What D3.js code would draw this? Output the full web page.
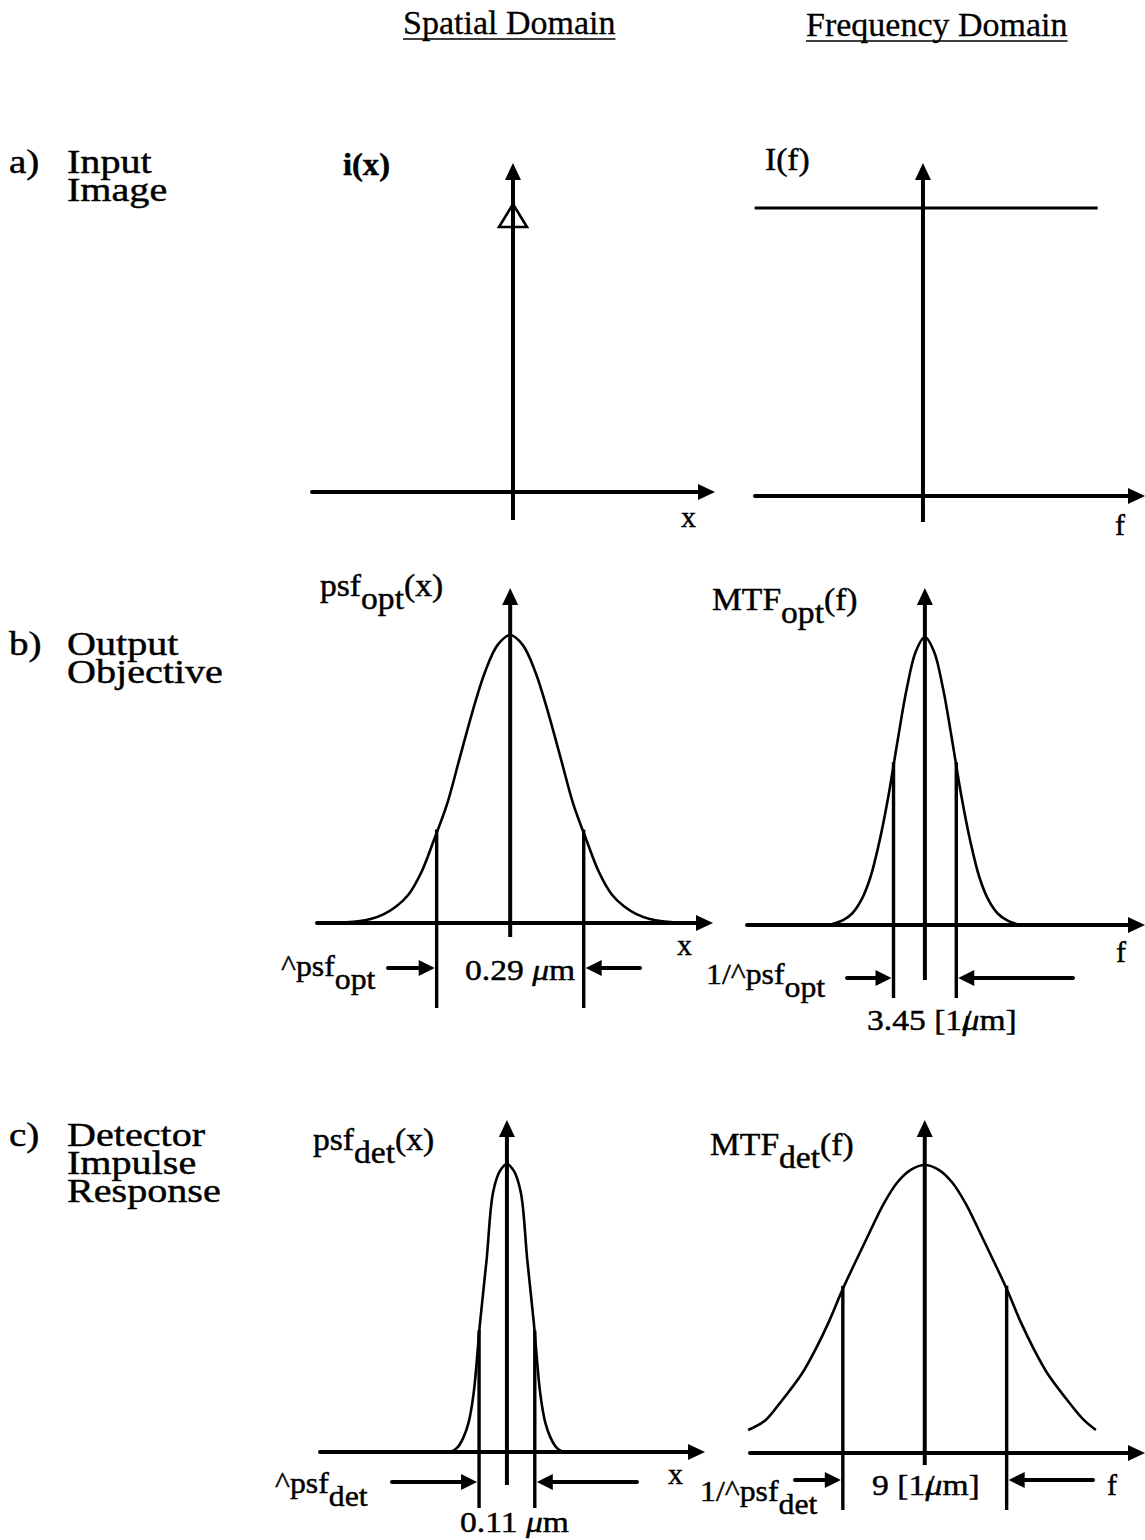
<!DOCTYPE html>
<html>
<head>
<meta charset="utf-8">
<script src="https://cdn.jsdelivr.net/npm/d3@7"></script>
<style>
  body { margin: 0; background: #fff; }
  text { font-family: "Liberation Serif", "Times New Roman", serif; fill: #000; stroke: #000; stroke-width: 0.45px; }
</style>
</head>
<body>
<svg id="fig" width="1145" height="1540"></svg>
<script>
// ---- content -------------------------------------------------------------
const columnTitles = ["Spatial Domain", "Frequency Domain"];
const rowLetters = ["a)", "b)", "c)"];
const rowCaptions = [["Input", "Image"], ["Output", "Objective"], ["Detector", "Impulse", "Response"]];

// function labels: [name, subscript, argument]
const spatialLabels = [["i(x)", "", ""], ["psf", "opt", "(x)"], ["psf", "det", "(x)"]];
const freqLabels = [["I(f)", "", ""], ["MTF", "opt", "(f)"], ["MTF", "det", "(f)"]];
const spatialAxisName = "x";
const freqAxisName = "f";

// full widths between the marker lines
const psfOptWidth = 0.29;  // μm
const mtfOptWidth = 3.45;  // 1/μm
const psfDetWidth = 0.11;  // μm
const mtfDetWidth = 9;     // 1/μm

// input: unit impulse at x = 0, flat spectrum
const impulseX = 0;
const impulseAmp = 1;
const flatF = [-9.25, 9.6];
const flatLevel = 1;

// optics point spread function (x in μm, normalized height)
const psfOptX = [-0.36, -0.30, -0.275, -0.25, -0.225, -0.20, -0.175, -0.15, -0.125, -0.10, -0.075, -0.05, -0.025, 0,
                 0.025, 0.05, 0.075, 0.10, 0.125, 0.15, 0.175, 0.20, 0.225, 0.25, 0.275, 0.30, 0.36];
const psfOptY = [0, 0.006, 0.014, 0.03, 0.057, 0.10, 0.177, 0.29, 0.41, 0.57, 0.73, 0.87, 0.965, 1,
                 0.965, 0.87, 0.73, 0.57, 0.41, 0.29, 0.177, 0.10, 0.057, 0.03, 0.014, 0.006, 0];

// optics MTF (f in 1/μm)
const mtfOptF = [-5.3, -4.5, -4, -3.5, -3, -2.5, -2, -1.5, -1, -0.5, 0, 0.5, 1, 1.5, 2, 2.5, 3, 3.5, 4, 4.5, 5.2];
const mtfOptY = [0, 0.017, 0.04, 0.086, 0.165, 0.29, 0.45, 0.64, 0.82, 0.95, 1, 0.95, 0.82, 0.64, 0.45, 0.29, 0.165, 0.086, 0.04, 0.017, 0];

// detector point spread function (x in μm)
const psfDetX = [-0.11, -0.098, -0.086, -0.076, -0.066, -0.053, -0.04, -0.0275, -0.014, 0,
                 0.014, 0.0275, 0.04, 0.053, 0.066, 0.076, 0.086, 0.098, 0.11];
const psfDetY = [0, 0.015, 0.05, 0.1, 0.2, 0.45, 0.67, 0.9, 0.975, 1,
                 0.975, 0.9, 0.67, 0.45, 0.2, 0.1, 0.05, 0.015, 0];

// detector MTF (f in 1/μm), drawn over a truncated band
const mtfDetF = [-9.7, -8.75, -8, -6.75, -6, -5.25, -4.5, -3.75, -3, -2.25, -1.5, -0.75, 0,
                 0.75, 1.5, 2.25, 3, 3.75, 4.5, 5.25, 6, 6.75, 8, 8.75, 9.4];
const mtfDetY = [0.08, 0.114, 0.17, 0.275, 0.36, 0.458, 0.57, 0.671, 0.77, 0.866, 0.94, 0.984, 1,
                 0.984, 0.94, 0.866, 0.77, 0.671, 0.57, 0.458, 0.36, 0.275, 0.17, 0.114, 0.08];

// ---- layout --------------------------------------------------------------
const unitH = 288;   // pixel height of a normalized value of 1
const rows = [
  { axisY: [492, 496], top: 163,
    left:  { px: [312, 715], dom: [-0.396, 0.398] },
    right: { px: [755, 1145], dom: [-9.23, 12.2] } },
  { axisY: [923, 925], top: 588,
    left:  { px: [317, 713], dom: [-0.381, 0.400] },
    right: { px: [747, 1145], dom: [-9.78, 12.1] } },
  { axisY: [1452, 1453], top: 1120,
    left:  { px: [320, 705], dom: [-0.369, 0.391] },
    right: { px: [750, 1145], dom: [-9.6, 12.1] } }
];

const svg = d3.select("#fig");
const AX = 4;          // axis stroke
const CURVE = 2.6;     // profile stroke
const MARK = 3.4;      // marker line stroke
const LABEL = 32;      // function label size
const NOTE = 30;       // annotation size
const WIDE = 1.12;     // horizontal widening of the serif face

// text anchored at (x, y), widened horizontally
function txt(g, x, y, size, sx = WIDE) {
  return g.append("text").attr("transform", `translate(${x},${y}) scale(${sx},1)`)
    .attr("font-size", size);
}

function arrowHead(g, x, y, dir, len = 17, half = 8) {
  let pts;
  if (dir === "up") pts = [[x, y], [x - half, y + len], [x + half, y + len]];
  else if (dir === "right") pts = [[x, y], [x - len, y - half], [x - len, y + half]];
  else pts = [[x, y], [x + len, y - half], [x + len, y + half]];
  g.append("path").attr("d", d3.line()(pts) + "Z").attr("fill", "#000");
}

function hline(g, x0, x1, y, w) {
  g.append("line").attr("x1", x0).attr("x2", x1).attr("y1", y).attr("y2", y)
    .attr("stroke", "#000").attr("stroke-width", w).attr("stroke-linecap", "round");
}
function vline(g, x, y0, y1, w) {
  g.append("line").attr("x1", x).attr("x2", x).attr("y1", y0).attr("y2", y1)
    .attr("stroke", "#000").attr("stroke-width", w).attr("stroke-linecap", "butt");
}

function funcLabel(g, x, y, lab, size, bold) {
  const t = txt(g, x, y, size, 1.05);
  if (bold) t.attr("font-weight", "bold");
  t.append("tspan").text(lab[0]);
  if (lab[1]) {
    t.append("tspan").attr("dy", 13).text(lab[1]);
    t.append("tspan").attr("dy", -13).text(lab[2]);
  }
}

function axisName(g, x, y, name) {
  txt(g, x, y, 30, 1).text(name);
}

// panel frame: axes with arrowheads, returns scales
function panel(g, spec, axisY, top, bottom) {
  const x = d3.scaleLinear().domain(spec.dom).range(spec.px);
  const y = d3.scaleLinear().domain([0, 1]).range([axisY, axisY - unitH]);
  const cx = x(0);
  hline(g, spec.px[0], spec.px[1] - 12, axisY, AX);
  arrowHead(g, spec.px[1], axisY, "right");
  vline(g, cx, top + 12, bottom, AX);
  arrowHead(g, cx, top, "up");
  return { x, y, cx };
}

function profile(g, s, xs, ys) {
  const pts = xs.map((v, i) => [s.x(v), s.y(ys[i])]);
  g.append("path").attr("d", d3.line().curve(d3.curveCatmullRom.alpha(0.5))(pts))
    .attr("fill", "none").attr("stroke", "#000").attr("stroke-width", CURVE)
    .attr("stroke-linejoin", "round");
}

// interpolated height of a sampled profile
function heightAt(xs, ys, v) {
  for (let i = 0; i < xs.length - 1; i++) {
    if (v >= xs[i] && v <= xs[i + 1]) {
      const t = (v - xs[i]) / (xs[i + 1] - xs[i]);
      return ys[i] + t * (ys[i + 1] - ys[i]);
    }
  }
  return 0;
}

// marker lines at ±width/2 plus the dimension arrows
function widthMarks(g, s, xs, ys, width, bottom, arrowY, leftStart, rightEnd) {
  const h = width / 2;
  [-h, h].forEach(v => {
    vline(g, s.x(v), s.y(heightAt(xs, ys, v)) - 3, bottom, MARK);
  });
  const xl = s.x(-h) - 2, xr = s.x(h) + 2;
  hline(g, leftStart, xl - 14, arrowY, AX);
  arrowHead(g, xl, arrowY, "right", 16, 8);
  hline(g, xr + 14, rightEnd, arrowY, AX);
  arrowHead(g, xr, arrowY, "left", 16, 8);
}

function caretLabel(g, x, y, prefix, sub) {
  const t = txt(g, x, y, NOTE, 1.06);
  t.append("tspan").text(prefix + "^psf");
  t.append("tspan").attr("dy", 13).text(sub);
}

function microLabel(g, x, y, num, inverse) {
  const t = txt(g, x, y, NOTE);
  if (inverse) {
    t.append("tspan").text(num + " [1/");
    t.append("tspan").attr("dx", -8).attr("font-style", "italic").text("μ");
    t.append("tspan").text("m]");
  } else {
    t.append("tspan").text(num + " ");
    t.append("tspan").attr("font-style", "italic").text("μ");
    t.append("tspan").text("m");
  }
}

// ---- headers -------------------------------------------------------------
const headerX = [403, 806];
const headerY = [34, 36];
columnTitles.forEach((t, i) => {
  const tx = txt(svg, headerX[i], headerY[i], 34, 1).style("stroke-width", "0.3px").text(t);
  const w = tx.node().getComputedTextLength();
  svg.append("line").attr("x1", headerX[i]).attr("x2", headerX[i] + w)
    .attr("y1", headerY[i] + 5).attr("y2", headerY[i] + 5)
    .attr("stroke", "#000").attr("stroke-width", 1.6);
});

// ---- row captions ----------------------------------------------------------
const captionY = [173, 655, 1146];
rowLetters.forEach((l, i) => {
  txt(svg, 9, captionY[i], 34, 1.15).text(l);
  rowCaptions[i].forEach((c, j) => {
    txt(svg, 67, captionY[i] + j * 28, 34, 1.18).text(c);
  });
});

// ---- row a: input image ----------------------------------------------------
{
  const g = svg.append("g");
  const r = rows[0];
  const sL = panel(g, r.left, r.axisY[0], r.top, 520);
  // impulse marker: open triangle with apex at the impulse amplitude
  const ix = sL.x(impulseX), iy = sL.y(impulseAmp);
  g.append("path").attr("d", d3.line()([[ix, iy], [ix - 14, iy + 23], [ix + 14, iy + 23]]) + "Z")
    .attr("fill", "none").attr("stroke", "#000").attr("stroke-width", 2.6);
  funcLabel(g, 343, 175, spatialLabels[0], 31, true);
  axisName(g, 681, 527, spatialAxisName);

  const sR = panel(g, r.right, r.axisY[1], r.top, 522);
  g.append("line").attr("x1", sR.x(flatF[0])).attr("x2", sR.x(flatF[1]))
    .attr("y1", sR.y(flatLevel)).attr("y2", sR.y(flatLevel))
    .attr("stroke", "#000").attr("stroke-width", 3);
  funcLabel(g, 765, 170, freqLabels[0], LABEL);
  axisName(g, 1115, 535, freqAxisName);
}

// ---- row b: optics --------------------------------------------------------
{
  const g = svg.append("g");
  const r = rows[1];
  const sL = panel(g, r.left, r.axisY[0], r.top, 937);
  profile(g, sL, psfOptX, psfOptY);
  widthMarks(g, sL, psfOptX, psfOptY, psfOptWidth, 1008, 968, 388, 640);
  funcLabel(g, 320, 596, spatialLabels[1], LABEL);
  axisName(g, 677, 955, spatialAxisName);
  caretLabel(g, 281, 976, "", "opt");
  microLabel(g, 465, 980, psfOptWidth.toFixed(2), false);

  const sR = panel(g, r.right, r.axisY[1], r.top, 980);
  profile(g, sR, mtfOptF, mtfOptY);
  widthMarks(g, sR, mtfOptF, mtfOptY, mtfOptWidth, 998, 978, 847, 1073);
  funcLabel(g, 712, 610, freqLabels[1], LABEL);
  axisName(g, 1116, 962, freqAxisName);
  caretLabel(g, 706, 984, "1/", "opt");
  microLabel(g, 867, 1030, mtfOptWidth.toFixed(2), true);
}

// ---- row c: detector ------------------------------------------------------
{
  const g = svg.append("g");
  const r = rows[2];
  const sL = panel(g, r.left, r.axisY[0], r.top, 1485);
  profile(g, sL, psfDetX, psfDetY);
  widthMarks(g, sL, psfDetX, psfDetY, psfDetWidth, 1508, 1482, 392, 637);
  funcLabel(g, 313, 1150, spatialLabels[2], LABEL);
  axisName(g, 668, 1484, spatialAxisName);
  caretLabel(g, 275, 1493, "", "det");
  microLabel(g, 460, 1532, psfDetWidth.toFixed(2), false);

  const sR = panel(g, r.right, r.axisY[1], r.top, 1465);
  profile(g, sR, mtfDetF, mtfDetY);
  widthMarks(g, sR, mtfDetF, mtfDetY, mtfDetWidth, 1510, 1480, 795, 1093);
  funcLabel(g, 710, 1155, freqLabels[2], LABEL);
  axisName(g, 1107, 1495, freqAxisName);
  caretLabel(g, 700, 1501, "1/", "det");
  microLabel(g, 872, 1495, String(mtfDetWidth), true);
}
</script>
</body>
</html>
